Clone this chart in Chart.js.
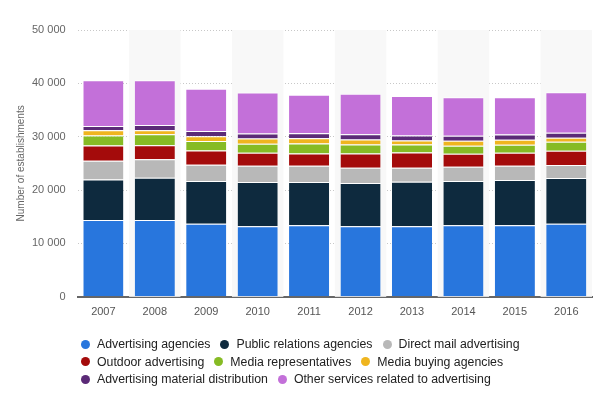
<!DOCTYPE html>
<html>
<head>
<meta charset="utf-8">
<script src="https://cdn.jsdelivr.net/npm/chart.js@4"></script>
<style>
  body { margin: 0; background: #fff; }
  #wrap { position: relative; width: 600px; height: 408px; }
  #legenda {
    position: absolute; left: 81px; top: 336px; width: 480px;
    font-family: "Liberation Sans", Arial, sans-serif; font-size: 12.3px; color: #222;
    line-height: 16.7px;
  }
  .item { display: inline-flex; align-items: center; margin-right: 10px; white-space: nowrap; }
  .bola { width: 9px; height: 9px; border-radius: 50%; margin-right: 7px; }
</style>
</head>
<body>
<div id="wrap">
  <canvas id="grafico" width="600" height="408"></canvas>
  <div id="legenda"></div>
</div>
<script>
const anos = ["2007", "2008", "2009", "2010", "2011", "2012", "2013", "2014", "2015", "2016"];

const advertisingAgencies = [14400, 14400, 13700, 13200, 13400, 13200, 13200, 13400, 13400, 13700];
const publicRelations     = [7600, 7900, 8000, 8300, 8100, 8150, 8350, 8300, 8500, 8550];
const directMail          = [3500, 3480, 3050, 3050, 3050, 2850, 2650, 2650, 2650, 2450];
const outdoor             = [2850, 2600, 2650, 2450, 2300, 2650, 2850, 2450, 2450, 2650];
const mediaReps           = [1900, 2090, 1800, 1700, 1900, 1700, 1500, 1500, 1500, 1700];
const mediaBuying         = [950, 750, 900, 950, 950, 950, 750, 950, 950, 750];
const materialDist        = [830, 960, 950, 950, 950, 950, 950, 950, 950, 950];
const otherServices       = [8550, 8420, 7950, 7700, 7200, 7600, 7400, 7200, 7000, 7600];

const yTicks = [0, 10000, 20000, 30000, 40000, 50000];

const series = [
  { label: "Advertising agencies", data: advertisingAgencies, cor: "#2876dd" },
  { label: "Public relations agencies", data: publicRelations, cor: "#0e2a3e" },
  { label: "Direct mail advertising", data: directMail, cor: "#b8b8b8" },
  { label: "Outdoor advertising", data: outdoor, cor: "#a40b0b" },
  { label: "Media representatives", data: mediaReps, cor: "#86bb24" },
  { label: "Media buying agencies", data: mediaBuying, cor: "#efb51f" },
  { label: "Advertising material distribution", data: materialDist, cor: "#5b2a77" },
  { label: "Other services related to advertising", data: otherServices, cor: "#c370d9" }
];

// faixas cinza alternadas atrás das colunas
const faixas = {
  id: "faixas",
  beforeDatasetsDraw(chart) {
    const { ctx, chartArea, scales } = chart;
    const passo = scales.x.getPixelForValue(1) - scales.x.getPixelForValue(0);
    ctx.save();
    ctx.fillStyle = "#f8f8f8";
    anos.forEach((ano, i) => {
      if (i % 2 === 1) {
        const centro = scales.x.getPixelForValue(i);
        ctx.fillRect(centro - passo / 2, chartArea.top, passo, chartArea.bottom - chartArea.top);
      }
    });
    ctx.restore();
  }
};

function formataNumero(valor) {
  return String(valor).replace(/\B(?=(\d{3})+(?!\d))/g, " ");
}

const fonte = "Liberation Sans, Arial, sans-serif";

const graficoEstab = new Chart(document.querySelector("#grafico"), {
  type: "bar",
  data: {
    labels: anos,
    datasets: series.map(s => ({
      label: s.label,
      data: s.data,
      backgroundColor: s.cor,
      borderColor: "#ffffff",
      borderWidth: { top: 1, bottom: 0, left: 0, right: 0 },
      borderSkipped: false,
      barPercentage: 0.78,
      categoryPercentage: 1
    }))
  },
  plugins: [faixas],
  options: {
    responsive: false,
    animation: false,
    layout: { padding: { top: 30, right: 8, left: 10, bottom: 88 } },
    plugins: {
      tooltip: { enabled: false },
      legend: { display: false }
    },
    scales: {
      x: {
        stacked: true,
        grid: { display: false },
        border: { color: "#666", width: 2 },
        ticks: { color: "#555", font: { family: fonte, size: 11 }, padding: 1 }
      },
      y: {
        stacked: true,
        min: 0,
        max: 50000,
        afterBuildTicks: eixo => { eixo.ticks = yTicks.map(v => ({ value: v })); },
        grid: { color: "#c8c8c8", drawTicks: false },
        border: { display: false, dash: [1, 2] },
        ticks: {
          color: "#666",
          padding: 12,
          font: { family: fonte, size: 11 },
          callback: v => formataNumero(v)
        },
        title: {
          display: true,
          text: "Number of establishments",
          color: "#666",
          padding: { top: 5, bottom: -7 },
          font: { family: fonte, size: 10 }
        }
      }
    }
  }
});

// legenda em HTML, a partir das séries
const legenda = document.querySelector("#legenda");
series.forEach(s => {
  const item = document.createElement("span");
  item.className = "item";
  const bola = document.createElement("span");
  bola.className = "bola";
  bola.style.background = s.cor;
  item.appendChild(bola);
  item.appendChild(document.createTextNode(s.label));
  legenda.appendChild(item);
});
</script>
</body>
</html>
